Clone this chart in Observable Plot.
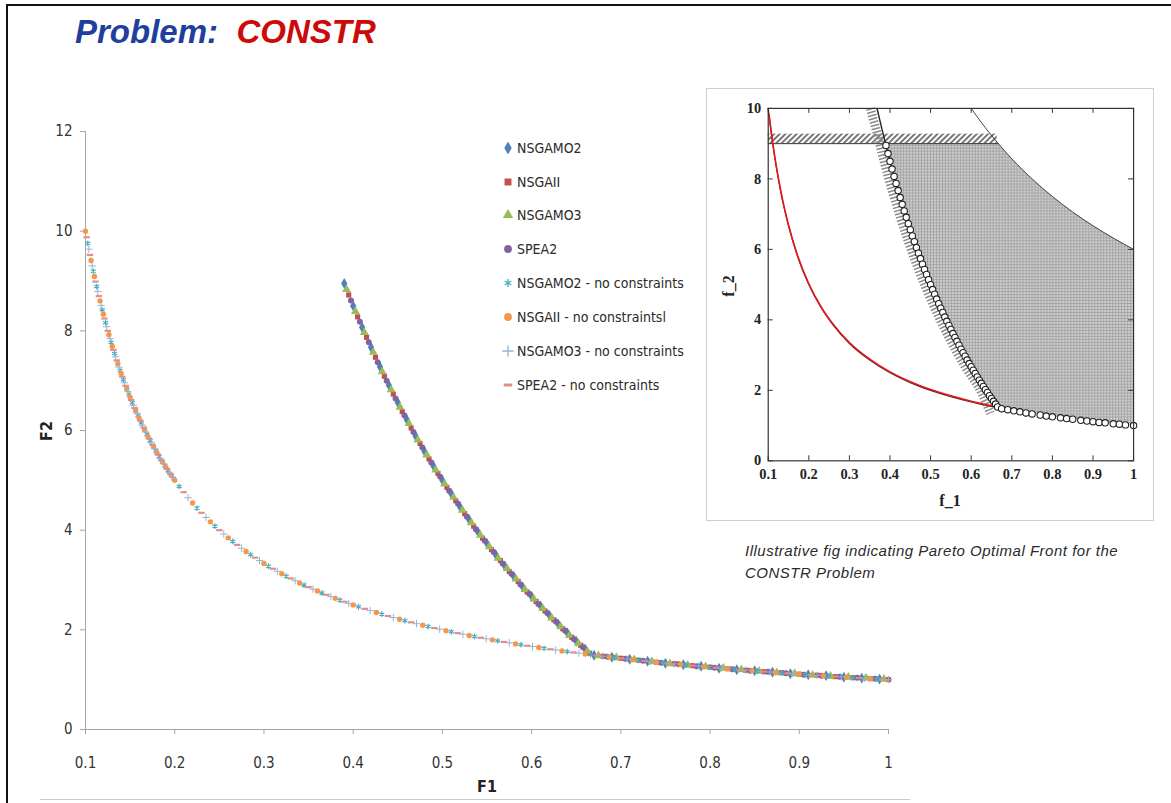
<!DOCTYPE html>
<html>
<head>
<meta charset="utf-8">
<script src="https://cdn.jsdelivr.net/npm/d3@7"></script>
<script src="https://cdn.jsdelivr.net/npm/@observablehq/plot@0.6"></script>
<style>
  html, body { margin: 0; padding: 0; background: #fff; }
  body { width: 1171px; height: 803px; position: relative; overflow: hidden; font-family: "Liberation Sans", Arial, sans-serif; }
  .abs { position: absolute; }
  #slide-edge { left: 6px; top: 4px; width: 1171px; height: 820px; border-top: 2px solid #111; border-left: 2px solid #111; }
  #bottom-rule { left: 40px; top: 799px; width: 870px; height: 1px; background: #c8c8c8; }
  #title { left: 75px; top: 13px; font-size: 33px; font-weight: bold; font-style: italic; white-space: pre; }
  #title .a { color: #1f3f9f; }
  #title .b { color: #cc0a0a; }
  #main { left: 0; top: 0; }
  #f1 { left: 487px; top: 786px; transform: translate(-50%, -50%); font: bold 16px "Liberation Sans Narrow", "DejaVu Sans Condensed", sans-serif; color: #222; }
  #f2 { left: 46px; top: 431px; transform: translate(-50%, -50%) rotate(-90deg); font: bold 16px "Liberation Sans Narrow", "DejaVu Sans Condensed", sans-serif; color: #222; }
  #legend { left: 501px; top: 0; }
  .lg { position: absolute; left: 0; display: flex; align-items: center; white-space: nowrap;
        font: 14px "Liberation Sans Narrow", "DejaVu Sans Condensed", sans-serif; color: #2a2a2a; transform: translateY(-50%); }
  .lg svg { margin-right: 2px; }
  #inset { left: 706px; top: 88px; width: 448px; height: 433px; border: 1px solid #cfcfcf; box-sizing: border-box; }
  #inset svg { position: absolute; left: -1px; top: -1px; }
  #f_1 { left: 950px; top: 501px; transform: translate(-50%, -50%); font: bold 16px "Liberation Serif", serif; color: #222; }
  #f_2 { left: 729px; top: 286px; transform: translate(-50%, -50%) rotate(-90deg); font: bold 16px "Liberation Serif", serif; color: #222; }
  #caption { left: 745px; top: 540px; font-size: 15px; letter-spacing: 0.5px; font-style: italic; line-height: 22px; color: #2b2b2b; white-space: nowrap; }
</style>
</head>
<body>
<svg width="0" height="0" style="position:absolute">
  <defs>
    <pattern id="shade" width="3" height="3" patternUnits="userSpaceOnUse">
      <rect width="3" height="3" fill="#cdcdcd"></rect>
      <path d="M0 0.5H3M0.5 0V3" stroke="#9e9e9e" stroke-width="0.8"></path>
    </pattern>
    <pattern id="hatch" width="4" height="4" patternUnits="userSpaceOnUse" patternTransform="rotate(45)">
      <rect width="4" height="4" fill="#fff"></rect>
      <line x1="1" y1="0" x2="1" y2="4" stroke="#555" stroke-width="1.6"></line>
    </pattern>
  </defs>
</svg>
<div id="slide-edge" class="abs"></div>
<div id="bottom-rule" class="abs"></div>
<div id="title" class="abs"><span class="a">Problem:</span>  <span class="b">CONSTR</span></div>
<div id="main" class="abs"></div>
<div id="f1" class="abs">F1</div>
<div id="f2" class="abs">F2</div>
<div id="legend" class="abs"></div>
<div id="inset" class="abs"></div>
<div id="f_1" class="abs">f_1</div>
<div id="f_2" class="abs">f_2</div>
<div id="caption" class="abs">Illustrative fig indicating Pareto Optimal Front for the<br>CONSTR Problem</div>
<script>
// ---------- Main chart: axes ----------
const xTicks = [0.1, 0.2, 0.3, 0.4, 0.5, 0.6, 0.7, 0.8, 0.9, 1];
const xTickLabels = ["0.1", "0.2", "0.3", "0.4", "0.5", "0.6", "0.7", "0.8", "0.9", "1"];
const yTicks = [0, 2, 4, 6, 8, 10, 12];
const yTickLabels = ["0", "2", "4", "6", "8", "10", "12"];

const seriesNames = [
  "NSGAMO2", "NSGAII", "NSGAMO3", "SPEA2",
  "NSGAMO2 - no constraints", "NSGAII - no constraints", "NSGAMO3 - no constraints", "SPEA2 - no constraints"
];

// ---------- Main chart: constrained runs [F1, F2] ----------
const nsgamo2 = [[0.390,8.95],[0.400,8.50],[0.410,8.07],[0.420,7.67],[0.430,7.28],[0.440,6.91],[0.450,6.56],[0.460,6.22],[0.470,5.89],[0.480,5.58],[0.490,5.29],[0.500,5.00],[0.510,4.73],[0.520,4.46],[0.530,4.21],[0.540,3.96],[0.550,3.73],[0.560,3.50],[0.570,3.28],[0.580,3.07],[0.590,2.86],[0.600,2.67],[0.610,2.48],[0.620,2.29],[0.630,2.11],[0.640,1.94],[0.650,1.77],[0.660,1.61],
  [0.67,1.49],[0.69,1.45],[0.71,1.41],[0.73,1.37],[0.75,1.33],[0.77,1.30],[0.79,1.27],[0.81,1.23],[0.83,1.20],[0.85,1.18],[0.87,1.15],[0.89,1.12],[0.91,1.10],[0.93,1.08],[0.95,1.05],[0.97,1.03],[0.99,1.01]];
const nsgaii = [[0.395,8.72],[0.405,8.28],[0.415,7.87],[0.425,7.47],[0.435,7.09],[0.445,6.73],[0.455,6.38],[0.465,6.05],[0.475,5.74],[0.485,5.43],[0.495,5.14],[0.505,4.86],[0.515,4.59],[0.525,4.33],[0.535,4.08],[0.545,3.84],[0.555,3.61],[0.565,3.39],[0.575,3.17],[0.585,2.97],[0.595,2.76],[0.605,2.57],[0.615,2.38],[0.625,2.20],[0.635,2.02],[0.645,1.85],[0.655,1.69],[0.665,1.53],
  [0.68,1.47],[0.70,1.43],[0.72,1.39],[0.74,1.35],[0.76,1.32],[0.78,1.28],[0.80,1.25],[0.82,1.22],[0.84,1.19],[0.86,1.16],[0.88,1.14],[0.90,1.11],[0.92,1.09],[0.94,1.06],[0.96,1.04],[0.98,1.02],[1.00,1.00]];
const nsgamo3 = [[0.3925,8.83],[0.4025,8.39],[0.4125,7.97],[0.4225,7.57],[0.4325,7.18],[0.4425,6.82],[0.4525,6.47],[0.4625,6.14],[0.4725,5.81],[0.4825,5.51],[0.4925,5.21],[0.5025,4.93],[0.5125,4.66],[0.5225,4.40],[0.5325,4.15],[0.5425,3.90],[0.5525,3.67],[0.5625,3.44],[0.5725,3.23],[0.5825,3.02],[0.5925,2.81],[0.6025,2.62],[0.6125,2.43],[0.6225,2.24],[0.6325,2.07],[0.6425,1.89],[0.6525,1.73],[0.6625,1.57],
  [0.675,1.48],[0.695,1.44],[0.715,1.40],[0.735,1.36],[0.755,1.32],[0.775,1.29],[0.795,1.26],[0.815,1.23],[0.835,1.20],[0.855,1.17],[0.875,1.14],[0.895,1.12],[0.915,1.09],[0.935,1.07],[0.955,1.05],[0.975,1.03],[0.995,1.01]];
const spea2 = [[0.3975,8.61],[0.4075,8.18],[0.4175,7.77],[0.4275,7.37],[0.4375,7.00],[0.4475,6.64],[0.4575,6.30],[0.4675,5.97],[0.4775,5.66],[0.4875,5.36],[0.4975,5.07],[0.5075,4.79],[0.5175,4.53],[0.5275,4.27],[0.5375,4.02],[0.5475,3.79],[0.5575,3.56],[0.5675,3.33],[0.5775,3.12],[0.5875,2.91],[0.5975,2.72],[0.6075,2.52],[0.6175,2.34],[0.6275,2.16],[0.6375,1.98],[0.6475,1.81],[0.6575,1.65],
  [0.685,1.46],[0.705,1.42],[0.725,1.38],[0.745,1.34],[0.765,1.31],[0.785,1.27],[0.805,1.24],[0.825,1.21],[0.845,1.18],[0.865,1.16],[0.885,1.13],[0.905,1.10],[0.925,1.08],[0.945,1.06],[0.965,1.04],[0.985,1.02]];

// ---------- Main chart: unconstrained runs [F1, F2] ----------
const nsgamo2Free = [[0.1025,9.756],[0.10875,9.195],[0.1125,8.889],[0.11875,8.421],[0.1225,8.163],[0.12875,7.767],[0.1325,7.547],[0.13875,7.207],[0.1425,7.018],[0.14875,6.723],[0.1525,6.557],[0.15875,6.299],[0.1625,6.154],[0.16875,5.926],[0.1725,5.797],[0.17875,5.594],[0.1825,5.479],[0.18875,5.298],[0.1925,5.195],[0.19875,5.031],
  [0.205,4.878],[0.225,4.444],[0.245,4.082],[0.265,3.774],[0.285,3.509],[0.305,3.279],[0.325,3.077],[0.345,2.899],[0.365,2.740],[0.385,2.597],[0.406,2.463],[0.432,2.315],[0.458,2.183],[0.484,2.066],[0.510,1.961],[0.536,1.866],[0.562,1.779],[0.588,1.701],[0.614,1.629],[0.640,1.563],[0.666,1.502],[0.693,1.443],[0.720,1.389],[0.747,1.339],[0.773,1.294],[0.800,1.250],[0.827,1.209],[0.853,1.172],[0.880,1.136],[0.907,1.103],[0.933,1.072],[0.960,1.042],[0.987,1.013]];
const nsgaiiFree = [[0.100,10.00],[0.10625,9.412],[0.110,9.091],[0.11625,8.602],[0.120,8.333],[0.12625,7.921],[0.130,7.692],[0.13625,7.339],[0.140,7.143],[0.14625,6.838],[0.150,6.667],[0.15625,6.400],[0.160,6.250],[0.16625,6.015],[0.170,5.882],[0.17625,5.674],[0.180,5.556],[0.18625,5.369],[0.190,5.263],[0.19625,5.096],[0.200,5.000],
  [0.220,4.545],[0.240,4.167],[0.260,3.846],[0.280,3.571],[0.300,3.333],[0.320,3.125],[0.340,2.941],[0.360,2.778],[0.380,2.632],[0.400,2.500],[0.426,2.347],[0.452,2.212],[0.478,2.092],[0.504,1.984],[0.530,1.887],[0.556,1.799],[0.582,1.718],[0.608,1.645],[0.634,1.577],[0.660,1.515],[0.687,1.456],[0.713,1.403],[0.740,1.351],[0.767,1.304],[0.793,1.261],[0.820,1.220],[0.847,1.181],[0.873,1.145],[0.900,1.111],[0.927,1.079],[0.953,1.049],[0.980,1.020]];
const nsgamo3Free = [[0.10375,9.639],[0.1075,9.302],[0.11375,8.791],[0.1175,8.511],[0.12375,8.081],[0.1275,7.843],[0.13375,7.477],[0.1375,7.273],[0.14375,6.957],[0.1475,6.780],[0.15375,6.504],[0.1575,6.349],[0.16375,6.107],[0.1675,5.970],[0.17375,5.755],[0.1775,5.634],[0.18375,5.442],[0.1875,5.333],[0.19375,5.161],[0.1975,5.063],
  [0.215,4.651],[0.235,4.255],[0.255,3.922],[0.275,3.636],[0.295,3.390],[0.315,3.175],[0.335,2.985],[0.355,2.817],[0.375,2.667],[0.395,2.532],[0.419,2.387],[0.445,2.247],[0.471,2.123],[0.497,2.012],[0.523,1.912],[0.549,1.821],[0.575,1.739],[0.601,1.664],[0.627,1.595],[0.653,1.531],[0.680,1.471],[0.707,1.414],[0.733,1.364],[0.760,1.316],[0.787,1.271],[0.813,1.230],[0.840,1.190],[0.867,1.153],[0.893,1.120],[0.920,1.087],[0.947,1.056],[0.973,1.028],[1.000,1.000]];
const spea2Free = [[0.10125,9.877],[0.1050,9.524],[0.11125,8.989],[0.1150,8.696],[0.12125,8.247],[0.1250,8.000],[0.13125,7.619],[0.1350,7.407],[0.14125,7.080],[0.1450,6.897],[0.15125,6.612],[0.1550,6.452],[0.16125,6.202],[0.1650,6.061],[0.17125,5.839],[0.1750,5.714],[0.18125,5.517],[0.1850,5.405],[0.19125,5.229],[0.1950,5.128],
  [0.210,4.762],[0.230,4.348],[0.250,4.000],[0.270,3.704],[0.290,3.448],[0.310,3.226],[0.330,3.030],[0.350,2.857],[0.370,2.703],[0.390,2.564],[0.413,2.421],[0.439,2.278],[0.465,2.151],[0.491,2.037],[0.517,1.934],[0.543,1.842],[0.569,1.757],[0.595,1.681],[0.621,1.610],[0.647,1.546],[0.673,1.486],[0.700,1.429],[0.727,1.376],[0.753,1.328],[0.780,1.282],[0.807,1.239],[0.833,1.200],[0.860,1.163],[0.887,1.127],[0.913,1.095],[0.940,1.064],[0.967,1.034],[0.993,1.007]];

// ---------- Inset: illustrative CONSTR objective space ----------
const insetXTicks = [0.1, 0.2, 0.3, 0.4, 0.5, 0.6, 0.7, 0.8, 0.9, 1];
const insetXLabels = ["0.1", "0.2", "0.3", "0.4", "0.5", "0.6", "0.7", "0.8", "0.9", "1"];
const insetYTicks = [0, 2, 4, 6, 8, 10];
const insetYLabels = ["0", "2", "4", "6", "8", "10"];

// feasible region: [f1, lower bound, upper bound]
const feasible = [[0.389,9.0,9.0],[0.40,8.50,9],[0.42,7.67,9],[0.44,6.91,9],[0.46,6.22,9],[0.48,5.58,9],[0.50,5.00,9],[0.52,4.46,9],[0.54,3.96,9],[0.56,3.50,9],[0.58,3.07,9],[0.60,2.67,9],[0.62,2.29,9],[0.64,1.94,9],[0.667,1.50,9.0],[0.70,1.43,8.57],[0.75,1.33,8.00],[0.80,1.25,7.50],[0.85,1.18,7.06],[0.90,1.11,6.67],[0.95,1.05,6.32],[1.00,1.00,6.00]];
const boundBand = [[0.1, 0.664, 9.0, 9.27]];          // [f1 from, f1 to, f2 from, f2 to]
const boundLine = [[0.1, 9.0], [0.667, 9.0]];
const upperCurve = [[0.6,10],[0.62,9.68],[0.65,9.23],[0.667,9.0],[0.70,8.57],[0.75,8.00],[0.80,7.50],[0.85,7.06],[0.90,6.67],[0.95,6.32],[1.00,6.00]];
const constraintCurve = [[0.368,10.0],[0.38,9.42],[0.39,8.95],[0.40,8.50],[0.42,7.67],[0.44,6.91],[0.46,6.22],[0.48,5.58],[0.50,5.00],[0.52,4.46],[0.54,3.96],[0.56,3.50],[0.58,3.07],[0.60,2.67],[0.62,2.29],[0.64,1.94],[0.667,1.50]];
const constraintHatch = [[0.366,10.0],[0.38,9.42],[0.40,8.50],[0.44,6.91],[0.48,5.58],[0.52,4.46],[0.56,3.50],[0.60,2.67],[0.64,1.94],[0.662,1.35]];
const unconstrainedCurve = [[0.1,10.0],[0.11,9.09],[0.12,8.33],[0.13,7.69],[0.14,7.14],[0.15,6.67],[0.17,5.88],[0.20,5.00],[0.23,4.35],[0.26,3.85],[0.30,3.33],[0.35,2.86],[0.40,2.50],[0.45,2.22],[0.50,2.00],[0.55,1.82],[0.60,1.67],[0.655,1.53]];
const redFront = [[0.102,9.8],[0.11,9.09],[0.12,8.33],[0.13,7.69],[0.14,7.14],[0.15,6.67],[0.17,5.88],[0.20,5.00],[0.23,4.35],[0.26,3.85],[0.30,3.33],[0.35,2.86],[0.40,2.50],[0.45,2.22],[0.50,2.00],[0.55,1.82],[0.60,1.67],[0.655,1.53]];
const paretoCircles = [[0.390,8.95],[0.395,8.72],[0.400,8.50],[0.405,8.28],[0.410,8.07],[0.415,7.87],[0.420,7.67],[0.425,7.47],[0.430,7.28],[0.435,7.09],[0.440,6.91],[0.445,6.73],[0.450,6.56],[0.455,6.38],[0.460,6.22],[0.465,6.05],[0.470,5.89],[0.475,5.74],[0.480,5.58],[0.485,5.43],[0.490,5.29],[0.495,5.14],[0.500,5.00],[0.505,4.86],[0.510,4.73],[0.515,4.59],[0.520,4.46],[0.525,4.33],[0.530,4.21],[0.535,4.08],[0.540,3.96],[0.545,3.84],[0.550,3.73],[0.555,3.61],[0.560,3.50],[0.565,3.39],[0.570,3.28],[0.575,3.17],[0.580,3.07],[0.585,2.97],[0.590,2.86],[0.595,2.76],[0.600,2.67],[0.605,2.57],[0.610,2.48],[0.615,2.38],[0.620,2.29],[0.625,2.20],[0.630,2.11],[0.635,2.02],[0.640,1.94],[0.645,1.85],[0.650,1.77],[0.655,1.69],[0.660,1.61],[0.665,1.53],
  [0.675,1.48],[0.69,1.45],[0.705,1.42],[0.72,1.39],[0.735,1.36],[0.75,1.33],[0.77,1.30],[0.785,1.27],[0.80,1.25],[0.82,1.22],[0.835,1.20],[0.85,1.18],[0.87,1.15],[0.885,1.13],[0.90,1.11],[0.915,1.09],[0.93,1.08],[0.95,1.05],[0.965,1.04],[0.98,1.02],[1.0,1.0]];

// ---------- series styling ----------
const dashSymbol = {
  draw(ctx, size) {
    const w = Math.sqrt(size) * 0.62, h = w * 0.34;
    ctx.moveTo(-w, -h); ctx.lineTo(w, -h); ctx.lineTo(w, h); ctx.lineTo(-w, h); ctx.closePath();
  }
};
const styles = [
  {data: nsgamo2,     symbol: "diamond",  d3sym: d3.symbolDiamond,  color: "#4f81bd", r: 3.3, filled: true,  sw: 1.2},
  {data: nsgaii,      symbol: "square",   d3sym: d3.symbolSquare,   color: "#c0504d", r: 2.9, filled: true,  sw: 1.2},
  {data: nsgamo3,     symbol: "triangle", d3sym: d3.symbolTriangle, color: "#9bbb59", r: 3.3, filled: true,  sw: 1.2},
  {data: spea2,       symbol: "circle",   d3sym: d3.symbolCircle,   color: "#8064a2", r: 3.0, filled: true,  sw: 1.2},
  {data: nsgamo2Free, symbol: "asterisk", d3sym: d3.symbolAsterisk, color: "#4bacc6", r: 2.7, filled: false, sw: 1.2},
  {data: nsgaiiFree,  symbol: "circle",   d3sym: d3.symbolCircle,   color: "#f79646", r: 2.7, filled: true,  sw: 1.2},
  {data: nsgamo3Free, symbol: "plus",     d3sym: d3.symbolPlus,     color: "#95b3d7", r: 2.5, filled: false, sw: 1.0},
  {data: spea2Free,   symbol: dashSymbol, d3sym: dashSymbol,        color: "#e38d89", r: 2.9, filled: true,  sw: 1.2}
];

const fmt = (ticks, labels) => d => labels[ticks.indexOf(d)];

// ---------- main chart ----------
const main = Plot.plot({
  width: 920,
  height: 803,
  marginLeft: 85,
  marginRight: 32,
  marginTop: 131,
  marginBottom: 74,
  x: {domain: [0.1, 1], ticks: xTicks, tickFormat: fmt(xTicks, xTickLabels), tickSize: 5, tickPadding: 23, label: null},
  y: {domain: [0, 12], ticks: yTicks, tickFormat: fmt(yTicks, yTickLabels), tickSize: 5, tickPadding: 8, label: null},
  style: {
    fontFamily: "'Liberation Sans Narrow', 'DejaVu Sans Condensed', sans-serif",
    fontSize: "15px",
    color: "#333",
    background: "transparent",
    overflow: "visible"
  },
  marks: [
    Plot.ruleX([0.1], {stroke: "#a6a6a6"}),
    Plot.ruleY([0], {stroke: "#a6a6a6"}),
    ...styles.map(s => Plot.dot(s.data, {
      x: d => d[0],
      y: d => d[1],
      symbol: s.symbol,
      r: s.r,
      fill: s.filled ? s.color : "none",
      stroke: s.filled ? "none" : s.color,
      strokeWidth: s.sw
    }))
  ]
});
document.getElementById("main").appendChild(main);
d3.select(main).selectAll('g[aria-label*="axis"] line, g[aria-label*="axis"] path').attr("stroke", "#a6a6a6");

// ---------- legend ----------
const legendRowsY = [148, 181.5, 215, 248.5, 283, 317, 351, 385];
const legend = d3.select("#legend");
seriesNames.forEach((name, i) => {
  const s = styles[i];
  const row = legend.append("div").attr("class", "lg").style("top", legendRowsY[i] + "px");
  const svg = row.append("svg").attr("width", 14).attr("height", 12);
  svg.append("path")
    .attr("transform", "translate(7,6)")
    .attr("d", d3.symbol(s.d3sym, s.filled ? 48 : 42)())
    .attr("fill", s.filled ? s.color : "none")
    .attr("stroke", s.filled ? "none" : s.color)
    .attr("stroke-width", 1.3);
  row.append("span").text(i === 5 ? name + "l" : name);
});

// ---------- inset ----------
const inset = Plot.plot({
  width: 448,
  height: 433,
  marginLeft: 62,
  marginRight: 19,
  marginTop: 20,
  marginBottom: 59,
  x: {domain: [0.1, 1], ticks: insetXTicks, tickFormat: fmt(insetXTicks, insetXLabels), tickSize: 0, tickPadding: 8, label: null},
  y: {domain: [0, 10], ticks: insetYTicks, tickFormat: fmt(insetYTicks, insetYLabels), tickSize: 0, tickPadding: 7, label: null},
  style: {
    fontFamily: "'Liberation Serif', 'DejaVu Serif', serif",
    fontSize: "14.5px",
    fontWeight: "bold",
    color: "#222",
    background: "transparent",
    overflow: "visible"
  },
  marks: [
    Plot.areaY(feasible, {x: d => d[0], y1: d => d[1], y2: d => d[2], fill: "url(#shade)"}),
    Plot.rect(boundBand, {x1: d => d[0], x2: d => d[1], y1: d => d[2], y2: d => d[3], fill: "url(#hatch)"}),
    Plot.line(boundLine, {x: d => d[0], y: d => d[1], stroke: "#333", strokeWidth: 1}),
    Plot.line(upperCurve, {x: d => d[0], y: d => d[1], stroke: "#444", strokeWidth: 1, curve: "monotone-x"}),
    Plot.line(constraintHatch, {x: d => d[0], y: d => d[1], dx: -6, stroke: "#8a8a8a", strokeWidth: 9, strokeDasharray: "1.5 1.9", strokeLinecap: "butt", strokeLinejoin: "miter", curve: "monotone-x"}),
    Plot.line(constraintCurve, {x: d => d[0], y: d => d[1], stroke: "#222", strokeWidth: 1.4, curve: "monotone-x"}),
    Plot.line(unconstrainedCurve, {x: d => d[0], y: d => d[1], stroke: "#333", strokeWidth: 1.2, curve: "monotone-x"}),
    Plot.line(redFront, {x: d => d[0], y: d => d[1], stroke: "#e8141a", strokeWidth: 1.6, dy: -0.8, curve: "monotone-x"}),
    Plot.dot(paretoCircles, {x: d => d[0], y: d => d[1], r: 3.2, fill: "#fff", stroke: "#222", strokeWidth: 1.1}),
    Plot.ruleX(insetXTicks, {insetTop: 349, stroke: "#333"}),
    Plot.ruleX(insetXTicks, {insetBottom: 349, stroke: "#333"}),
    Plot.ruleY(insetYTicks, {insetRight: 362, stroke: "#333"}),
    Plot.ruleY(insetYTicks, {insetLeft: 362, stroke: "#333"}),
    Plot.frame({stroke: "#333", strokeWidth: 1.2})
  ]
});
document.getElementById("inset").appendChild(inset);
</script>
</body>
</html>
